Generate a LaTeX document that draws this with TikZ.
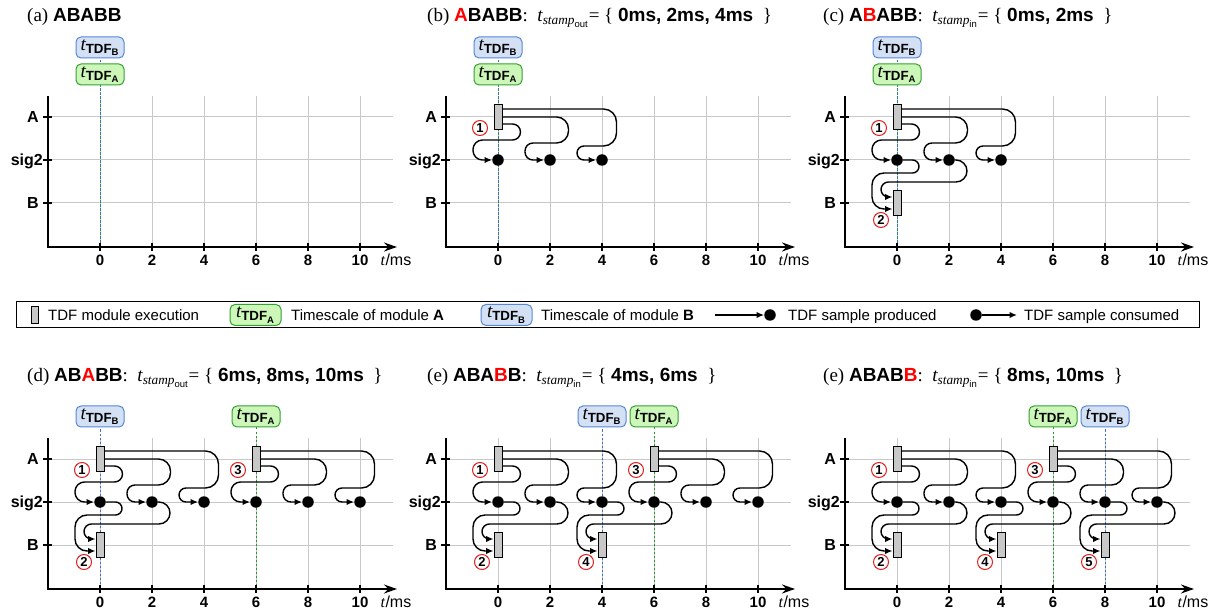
\documentclass[tikz,border=0pt]{standalone}
\usepackage{fontspec}
\usepackage{amsmath}
\setmainfont{Liberation Serif}
\setsansfont{Liberation Sans}
\usetikzlibrary{arrows.meta,calc}
\pgfdeclarelayer{gridlayer}
\pgfdeclarelayer{bglayer}
\pgfsetlayers{gridlayer,bglayer,main}
\definecolor{tagAfill}{RGB}{204,247,184}
\definecolor{tagAdraw}{RGB}{51,160,51}
\definecolor{tagBfill}{RGB}{212,225,245}
\definecolor{tagBdraw}{RGB}{85,135,215}
\definecolor{lineA}{RGB}{40,150,40}
\definecolor{lineB}{RGB}{60,110,210}
\definecolor{gridc}{RGB}{200,200,200}
\definecolor{execc}{RGB}{200,200,200}
\definecolor{numred}{RGB}{230,30,30}
\newcommand\tTDF[1]{$\textit{t}_{\textsf{\bfseries TDF}_{\textsf{\bfseries #1}}}$}
\newcommand\stampsym[1]{$\textit{t}_{\textit{stamp}_{\textsf{#1}}}$}
\tikzset{
  gridline/.style={draw=gridc, line width=1pt},
  axisline/.style={line width=2pt, -{Stealth[length=13pt,width=9pt]}},
  tickmark/.style={line width=1.5pt},
  flow/.style={line width=1.4pt, -{Latex[length=7.5pt,width=6.5pt]}},
  sample/.style={circle, fill=black, inner sep=0pt, minimum size=11.5pt},
  exec/.style={rectangle, draw=black, fill=execc, line width=1pt, minimum width=8pt, minimum height=25pt, inner sep=0pt},
  num/.style={circle, draw=numred, line width=1pt, minimum size=15pt, inner sep=0pt, font=\sffamily\bfseries\fontsize{13}{13}\selectfont},
  tagbase/.style={rounded corners=5pt, minimum width=48pt, minimum height=21pt, inner sep=0pt, line width=1pt, font=\fontsize{19}{19}\selectfont},
  tagA/.style={tagbase, draw=tagAdraw, fill=tagAfill},
  tagB/.style={tagbase, draw=tagBdraw, fill=tagBfill},
  tlA/.style={draw=lineA, line width=1pt, dash pattern=on 2pt off 2pt},
  tlB/.style={draw=lineB, line width=1pt, dash pattern=on 2pt off 2pt, dash phase=2pt},
  rowlab/.style={anchor=base east, inner sep=0pt, font=\sffamily\bfseries\fontsize{16}{16}\selectfont},
  ticklab/.style={anchor=base, inner sep=0pt, font=\sffamily\bfseries\fontsize{15}{15}\selectfont},
  ttl/.style={anchor=base west, inner sep=0pt, font=\fontsize{19}{22}\selectfont},
  legtxt/.style={anchor=base west, inner sep=0pt, font=\sffamily\fontsize{15}{18}\selectfont},
}
\newcommand\TDFaxes[1]{%
  \begin{pgfonlayer}{gridlayer}
    \foreach \x in {0,52,...,260}{\draw[gridline] (\x,-21) -- (\x,130);}
    \foreach \y in {0,43,86}{\draw[gridline] (-52,\y) -- (293,\y);}
  \end{pgfonlayer}
  \draw[axisline] (-52,-21) -- (-52,130) -- (297,130);
  \foreach \y in {0,43,86}{\draw[tickmark] (-57,\y) -- (-48,\y);}
  \foreach \x [count=\i from 0] in {0,52,...,260}{%
    \draw[tickmark] (\x,126) -- (\x,134);
    \pgfmathtruncatemacro\lab{2*\i}
    \node[ticklab] (#1-x\i) at (\x,148.5) {\lab};}
  \node[rowlab] (#1-rA) at (-61,5.5) {A};
  \node[rowlab] (#1-rs) at (-57,48.5) {sig2};
  \node[rowlab] (#1-rB) at (-61,91.5) {B};
  \node[anchor=base, inner sep=0pt, font=\fontsize{16}{16}\selectfont] (#1-tl) at (296,148.5) {\textit{t}\textsf{/ms}};
}
% module A: name, x, number
\newcommand\modA[3]{%
  \node[exec] (#1) at (#2,0) {};
  \node[num] (#1-n) at ($(#1)+(-18,11)$) {#3};
  \foreach \k/\yo/\xr/\yr/\ra/\rb in {0/7/18/23/8/9.5, 1/0/66/26/12/8, 2/-8/114/29/13/7}{%
    \node[sample] (#1-d\k) at ($(#1)+(52*\k,43)$) {};
    \draw[flow, rounded corners=\ra pt] ($(#1.east)+(0,\yo)$) -- ($(#1.east)+(\xr,\yo)$) -- ($(#1.east)+(\xr,\yr)$)
      [rounded corners=\rb pt] -- ($(#1-d\k)+(-25,\yr-43)$) -- ($(#1-d\k)+(-25,0)$) -- (#1-d\k);
  }
}
% module B: name, x, number, dot k0, dot k1
\newcommand\modB[5]{%
  \node[exec] (#1) at (#2,86) {};
  \node[num] (#1-n) at ($(#1)+(-16,17)$) {#3};
  \draw[flow, rounded corners=6.5pt] (#4) -- ($(#1)+(22,-43)$) -- ($(#1)+(22,-30)$)
    [rounded corners=12pt] -- ($(#1)+(-25,-30)$) -- ($(#1)+(-25,6)$) -- ($(#1.west)+(0,6)$);
  \draw[flow, rounded corners=11pt] (#5) -- ($(#1)+(70,-43)$) -- ($(#1)+(70,-21)$)
    [rounded corners=7.5pt] -- ($(#1)+(-16,-21)$) -- ($(#1)+(-16,-6)$) -- ($(#1.west)+(0,-6)$);
}
% stacked tags at t=0 (top row)
\newcommand\stackedtags[1]{%
  \node[tagB] (#1-TB) at (0,-69.5) {\tTDF{B}};
  \node[tagA] (#1-TA) at (0,-42.5) {\tTDF{A}};
  \begin{pgfonlayer}{bglayer}
    \draw[tlA] (#1-TA.south) -- (#1-TA.south |- 0,130);
    \draw[tlB] (#1-TB.south) -- (#1-TB.south |- 0,130);
  \end{pgfonlayer}
}
% separate tags: name, xB, xA
\newcommand\sidetags[3]{%
  \node[tagB] (#1-TB) at (#2,-42.5) {\tTDF{B}};
  \node[tagA] (#1-TA) at (#3,-42.5) {\tTDF{A}};
  \begin{pgfonlayer}{bglayer}
    \draw[tlA] (#1-TA.south) -- (#1-TA.south |- 0,130);
    \draw[tlB] (#1-TB.south) -- (#1-TB.south |- 0,130);
  \end{pgfonlayer}
}
\begin{document}
\begin{tikzpicture}[x=1pt,y=-1pt]
\useasboundingbox (0,0) rectangle (1229,609);
\begin{pgfonlayer}{gridlayer}\fill[white] (0,0) rectangle (1229,609);\end{pgfonlayer}

% ---------- (a)
\begin{scope}[shift={(100,117)}]
  \TDFaxes{a}
  \stackedtags{a}
\end{scope}
\node[ttl] (a-title) at (27,21.5) {(a) \textsf{\bfseries ABABB}};

% ---------- (b)
\begin{scope}[shift={(498,117)}]
  \TDFaxes{b}
  \stackedtags{b}
  \modA{b-A1}{0}{1}
\end{scope}
\node[ttl] (b-title) at (427,21.5) {(b) \textsf{\bfseries\textcolor{red}{A}BABB}:\ \ \stampsym{out}= \{ \textsf{\bfseries 0ms, 2ms, 4ms}\ \ \}};

% ---------- (c)
\begin{scope}[shift={(897,117)}]
  \TDFaxes{c}
  \stackedtags{c}
  \modA{c-A1}{0}{1}
  \modB{c-B2}{0}{2}{c-A1-d0}{c-A1-d1}
\end{scope}
\node[ttl] (c-title) at (823,21.5) {(c) \textsf{\bfseries A\textcolor{red}{B}ABB}:\ \ \stampsym{in}= \{ \textsf{\bfseries 0ms, 2ms}\ \ \}};

% ---------- legend
\node[draw, line width=1pt, minimum width=1183pt, minimum height=26pt, inner sep=0pt] (legend) at (607.5,315) {};
\node[exec, minimum height=17pt, minimum width=7pt] (lg-exec) at (35,315) {};
\node[legtxt] (lg-t1) at (48,320.5) {TDF module execution};
\node[tagA, minimum width=51pt] (lg-A) at (255.5,315) {\tTDF{A}};
\node[legtxt] (lg-t2) at (291,320.5) {Timescale of module \textbf{A}};
\node[tagB, minimum width=51pt] (lg-B) at (506.5,315) {\tTDF{B}};
\node[legtxt] (lg-t3) at (541,320.5) {Timescale of module \textbf{B}};
\coordinate (lg-p0) at (715,315);
\node[sample] (lg-pd) at (770,315) {};
\draw[flow] (lg-p0) -- (lg-pd);
\node[legtxt] (lg-t4) at (788,320.5) {TDF sample produced};
\node[sample] (lg-cd) at (976,315) {};
\coordinate (lg-c1) at (1017,315);
\draw[flow] (lg-cd) -- (lg-c1);
\node[legtxt] (lg-t5) at (1024,320.5) {TDF sample consumed};

% ---------- (d)
\begin{scope}[shift={(100,459)}]
  \TDFaxes{d}
  \sidetags{d}{0}{156}
  \modA{d-A1}{0}{1}
  \modB{d-B2}{0}{2}{d-A1-d0}{d-A1-d1}
  \modA{d-A3}{156}{3}
\end{scope}
\node[ttl] (d-title) at (27,381.5) {(d) \textsf{\bfseries AB\textcolor{red}{A}BB}:\ \ \stampsym{out}= \{ \textsf{\bfseries 6ms, 8ms, 10ms}\ \ \}};

% ---------- (e)
\begin{scope}[shift={(498,459)}]
  \TDFaxes{e}
  \sidetags{e}{104}{156}
  \modA{e-A1}{0}{1}
  \modB{e-B2}{0}{2}{e-A1-d0}{e-A1-d1}
  \modA{e-A3}{156}{3}
  \modB{e-B4}{104}{4}{e-A1-d2}{e-A3-d0}
\end{scope}
\node[ttl] (e-title) at (427,381.5) {(e) \textsf{\bfseries ABA\textcolor{red}{B}B}:\ \ \stampsym{in}= \{ \textsf{\bfseries 4ms, 6ms}\ \ \}};

% ---------- (f)
\begin{scope}[shift={(897,459)}]
  \TDFaxes{f}
  \sidetags{f}{208}{156}
  \modA{f-A1}{0}{1}
  \modB{f-B2}{0}{2}{f-A1-d0}{f-A1-d1}
  \modA{f-A3}{156}{3}
  \modB{f-B4}{104}{4}{f-A1-d2}{f-A3-d0}
  \modB{f-B5}{208}{5}{f-A3-d1}{f-A3-d2}
\end{scope}
\node[ttl] (f-title) at (823,381.5) {(e) \textsf{\bfseries ABAB\textcolor{red}{B}}:\ \ \stampsym{in}= \{ \textsf{\bfseries 8ms, 10ms}\ \ \}};
\end{tikzpicture}
\end{document}
